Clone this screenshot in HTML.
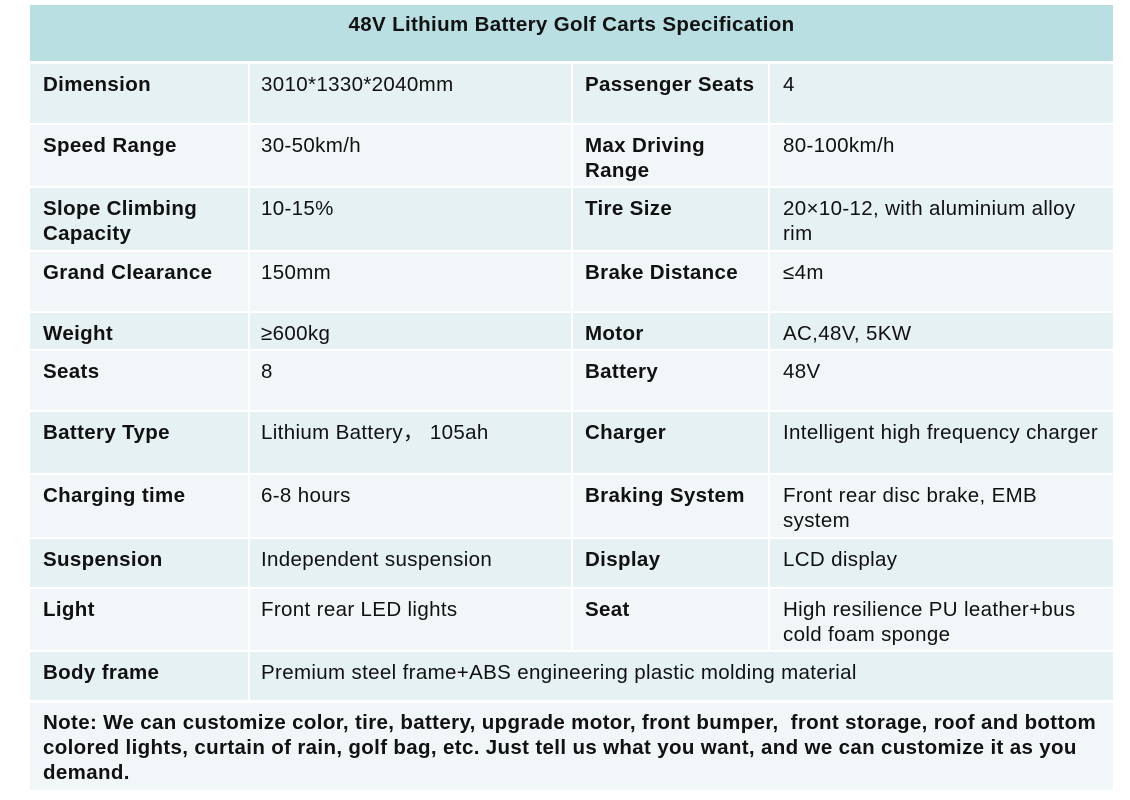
<!DOCTYPE html>
<html><head><meta charset="utf-8"><style>
body{margin:0;width:1130px;height:800px;background:#fff;position:relative;overflow:hidden;font-family:"Liberation Sans","Noto Sans CJK SC",sans-serif;color:#111;}
.c{position:absolute;box-sizing:border-box;padding:8px 0 0 13px;font-size:20.5px;letter-spacing:0.35px;line-height:25px;}
.d{background:#e6f1f3}.l{background:#f1f7f9}
.b{font-weight:bold}
#title{position:absolute;left:30px;top:5px;width:1083px;height:56px;background:#b9dfe2;text-align:center;font-weight:bold;font-size:20.5px;letter-spacing:0.35px;line-height:40px;}
</style></head><body>
<div id="title">48V Lithium Battery Golf Carts Specification</div>
<div id="tbl"></div>
<script>
const rows=[
[64,123,"Dimension","3010*1330*2040mm","Passenger Seats","4"],
[125,186,"Speed Range","30-50km/h","Max Driving<br>Range","80-100km/h"],
[188,250,"Slope Climbing<br>Capacity","10-15%","Tire Size","20×10-12, with aluminium alloy<br>rim"],
[252,311,"Grand Clearance","150mm","Brake Distance","≤4m"],
[313,349,"Weight","≥600kg","Motor","AC,48V, 5KW"],
[351,410,"Seats","8","Battery","48V"],
[412,473,"Battery Type","Lithium Battery，&nbsp;105ah","Charger","Intelligent high frequency charger"],
[475,537,"Charging time","6-8 hours","Braking System","Front rear disc brake, EMB<br>system"],
[539,587,"Suspension","Independent suspension","Display","LCD display"],
[589,650,"Light","Front rear LED lights","Seat","High resilience PU leather+bus<br>cold foam sponge"],
[652,700,"Body frame","Premium steel frame+ABS engineering plastic molding material",null,null]
];
const cols=[[30,248],[250,571],[573,768],[770,1113]];
const pads=[13,11,12,13];
const tbl=document.getElementById('tbl');
rows.forEach((r,i)=>{
  const cls=i%2==0?'d':'l';
  const vals=[r[2],r[3],r[4],r[5]];
  let cs=cols;
  if(r[4]===null){cs=[cols[0],[250,1113]];}
  cs.forEach((c,j)=>{
    const el=document.createElement('div');
    el.className='c '+cls+(j%2==0?' b':'');
    el.style.left=c[0]+'px';el.style.width=(c[1]-c[0])+'px';
    el.style.top=r[0]+'px';el.style.height=(r[1]-r[0])+'px';
    el.style.paddingLeft=pads[j]+'px';
    el.style.whiteSpace='nowrap';
    el.innerHTML=vals[j];
    
    
    tbl.appendChild(el);
  });
});
const n=document.createElement('div');
n.className='c l b';
n.style.left='30px';n.style.width='1083px';n.style.top='703px';n.style.height='87px';n.style.paddingTop='7px';
n.innerHTML='Note: We can customize color, tire, battery, upgrade motor, front bumper,&nbsp; front storage, roof and bottom<br>colored lights, curtain of rain, golf bag, etc. Just tell us what you want, and we can customize it as you<br>demand.';


tbl.appendChild(n);
</script>
</body></html>
